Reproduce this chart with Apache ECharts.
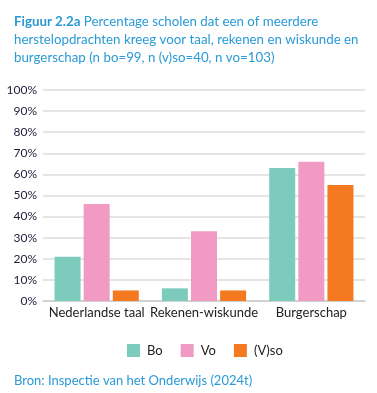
<!DOCTYPE html>
<html>
<head>
<meta charset="utf-8">
<script src="https://cdn.jsdelivr.net/npm/echarts@6/dist/echarts.min.js"></script>
<style>
  html, body { margin: 0; padding: 0; background: #fff; }
  #chart { width: 377px; height: 393px; }
</style>
</head>
<body>
<div id="chart"></div>
<script>
// categorieen en percentages per schoolsoort
var categories = ['Nederlandse taal', 'Rekenen-wiskunde', 'Burgerschap'];
var bo = [21, 6, 63];
var vo = [46, 33, 66];
var vso = [5, 5, 55];
var yTicks = [0, 10, 20, 30, 40, 50, 60, 70, 80, 90, 100];

var fontFam = 'Lato, "Open Sans", sans-serif';
var myChart = echarts.init(document.getElementById('chart'));

var option = {
  animation: false,
  textStyle: { fontFamily: fontFam },
  color: ['#7ccbbd', '#f19ac3', '#f47920'],
  title: [
    {
      text: '{b|Figuur 2.2a} Percentage scholen dat een of meerdere\nherstelopdrachten kreeg voor taal, rekenen en wiskunde en\nburgerschap (n bo=99, n (v)so=40, n vo=103)',
      left: 9,
      top: 8,
      textStyle: {
        fontFamily: fontFam,
        fontSize: 13.3,
        fontWeight: 'normal',
        color: '#2a9ad6',
        lineHeight: 18,
        rich: {
          b: { fontFamily: fontFam, fontSize: 13.3, fontWeight: 'bold', color: '#2a9ad6', lineHeight: 18 }
        }
      }
    },
    {
      text: 'Bron: Inspectie van het Onderwijs (2024t)',
      left: 9,
      top: 369,
      textStyle: { fontFamily: fontFam, fontSize: 13, fontWeight: 'normal', color: '#2a9ad6' }
    }
  ],
  legend: {
    top: 339,
    left: 122,
    itemWidth: 13,
    itemHeight: 13,
    itemGap: 18,
    icon: 'rect',
    textStyle: { fontFamily: fontFam, fontSize: 13, color: '#222', padding: [0, 0, 0, 2] },
    data: ['Bo', 'Vo', '(V)so']
  },
  grid: { left: 43, right: 12, top: 90, bottom: 92, containLabel: false },
  xAxis: {
    type: 'category',
    data: categories,
    axisLine: { lineStyle: { color: '#cccccc', width: 1.5 } },
    axisTick: { inside: true, length: 6, lineStyle: { color: '#cccccc' } },
    axisLabel: { fontFamily: fontFam, fontSize: 13, color: '#222', margin: 5, interval: 0 }
  },
  yAxis: {
    type: 'value',
    min: yTicks[0],
    max: yTicks[yTicks.length - 1],
    interval: 10,
    axisLine: { show: false },
    axisTick: { show: false },
    splitLine: { lineStyle: { color: '#dddddd', width: 1.5 } },
    axisLabel: { fontFamily: fontFam, fontSize: 12, color: '#1d1d3a', margin: 6, formatter: '{value}%' }
  },
  series: [
    { name: 'Bo', type: 'bar', data: bo, barWidth: 26, barGap: '12%' },
    { name: 'Vo', type: 'bar', data: vo, barWidth: 26, barGap: '12%' },
    { name: '(V)so', type: 'bar', data: vso, barWidth: 26, barGap: '12%' }
  ]
};

myChart.setOption(option);
</script>
</body>
</html>
